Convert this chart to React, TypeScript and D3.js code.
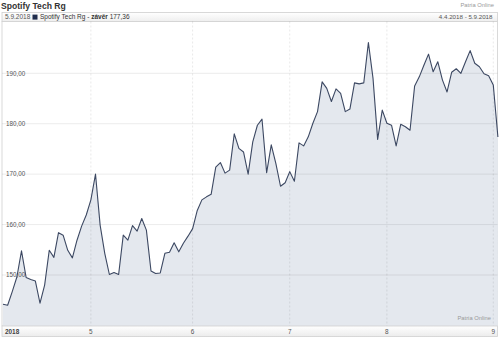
import React from "react";
import * as d3 from "d3";

const title = "Spotify Tech Rg";
const lastDate = "5.9.2018";
const lastValue = "177,36";
const rangeLabel = "4.4.2018 - 5.9.2018";
const source = "Patria Online";

const closes: number[] = [
  144.2, 144.0, 146.7, 149.6, 154.8, 149.5, 149.1, 148.8, 144.4, 148.0,
  154.9, 153.5, 158.4, 157.9, 154.9, 153.4, 156.9, 159.7, 161.9, 164.9,
  170.0, 159.9, 154.3, 150.1, 150.5, 150.1, 157.9, 156.9, 159.8, 158.7,
  161.2, 158.9, 150.8, 150.3, 150.4, 154.3, 154.5, 156.4, 154.6, 156.3,
  157.7, 159.2, 162.8, 164.9, 165.5, 166.0, 171.4, 172.3, 170.2, 170.8,
  178.0, 175.1, 174.4, 170.0, 176.4, 179.7, 180.9, 170.3, 175.8, 172.1,
  167.6, 168.3, 170.5, 168.6, 176.2, 175.6, 177.4, 180.1, 182.4, 188.3,
  187.0, 184.4, 186.9, 186.0, 182.4, 182.9, 188.1, 187.9, 188.1, 196.1,
  189.0, 176.9, 182.7, 180.1, 179.7, 175.6, 179.9, 179.4, 178.7, 187.5,
  189.3, 191.6, 193.8, 190.3, 192.3, 188.7, 186.3, 190.2, 190.9, 190.0,
  192.3, 194.5, 192.0, 191.3, 189.9, 189.5, 187.7, 177.36,
];

const monthLabels = ["2018", "5", "6", "7", "8", "9"];
const monthStartIndex = [0, 19, 41, 62, 83, 106];
const yTicks = [150, 160, 170, 180, 190];

const W = 500;
const H = 338;
const plotLeft = 2;
const plotRight = 497.5;
const plotTop = 21.5;
const plotBottom = 326;
const font = "'Liberation Sans', Arial, sans-serif";

export default function App() {
  const x = d3.scaleLinear().domain([0, closes.length - 1]).range([3, 497.9]);
  const y = d3.scaleLinear().domain([150, 190]).range([275, 73.3]);

  const area = d3
    .area<number>()
    .x((_, i) => x(i))
    .y0(plotBottom)
    .y1((d) => y(d));
  const line = d3
    .line<number>()
    .x((_, i) => x(i))
    .y((d) => y(d));

  const fmt = (v: number) => v.toFixed(2).replace(".", ",");

  return (
    <svg
      width={W}
      height={H}
      style={{ position: "absolute", left: 0, top: 0, background: "#fff" }}
      fontFamily={font}
    >
      <defs>
        <linearGradient id="hdr" x1="0" y1="0" x2="0" y2="1">
          <stop offset="0" stopColor="#ffffff" />
          <stop offset="1" stopColor="#eeeeee" />
        </linearGradient>
        <linearGradient id="axb" x1="0" y1="0" x2="0" y2="1">
          <stop offset="0" stopColor="#ffffff" />
          <stop offset="1" stopColor="#ececec" />
        </linearGradient>
      </defs>

      {/* title */}
      <text x={1} y={9} fontSize={8.6} fontWeight="bold" fill="#333">
        {title}
      </text>
      <text x={494} y={6.5} fontSize={5.8} fill="#999" textAnchor="end">
        {source}
      </text>

      {/* header bar */}
      <rect x={plotLeft} y={12.5} width={plotRight - plotLeft} height={plotTop - 12.5} fill="url(#hdr)" stroke="#cfcfcf" strokeWidth={0.8} />
      <text x={5} y={19.2} fontSize={6.5} fill="#555">
        {lastDate}
      </text>
      <rect x={32.5} y={14.6} width={5} height={5} fill="#1f2d4d" />
      <text x={40} y={19.2} fontSize={6.5} fill="#333">
        {title} - <tspan fontWeight="bold">závěr</tspan> {lastValue}
      </text>
      <text x={492.5} y={19.2} fontSize={6.2} fill="#555" textAnchor="end">
        {rangeLabel}
      </text>

      {/* plot */}
      <rect x={plotLeft} y={plotTop} width={plotRight - plotLeft} height={plotBottom - plotTop} fill="#fff" stroke="#d0d0d0" strokeWidth={0.8} />
      <path d={area(closes) || ""} fill="#e4e8ee" />

      {yTicks.map((t) => (
        <g key={t}>
          <line x1={plotLeft} x2={plotRight} y1={y(t)} y2={y(t)} stroke="rgba(0,0,0,0.1)" strokeWidth={0.8} />
          <text x={6} y={y(t)} dy="0.35em" fontSize={6.3} fill="#555">
            {fmt(t)}
          </text>
        </g>
      ))}
      {monthStartIndex.slice(1).map((m) => (
        <line key={m} x1={x(m)} x2={x(m)} y1={plotTop} y2={plotBottom} stroke="rgba(0,0,0,0.13)" strokeWidth={0.7} strokeDasharray="2,2" />
      ))}

      <path d={line(closes) || ""} fill="none" stroke="#3c4862" strokeWidth={1.1} strokeLinejoin="round" />

      <text x={491} y={319.5} fontSize={5.8} fill="#999" textAnchor="end">
        {source}
      </text>

      {/* bottom axis bar */}
      <rect x={plotLeft} y={plotBottom} width={plotRight - plotLeft} height={10.5} fill="url(#axb)" stroke="#d0d0d0" strokeWidth={0.8} />
      {monthLabels.map((lab, i) =>
        i === 0 ? (
          <text key={lab} x={5} y={333.5} fontSize={6.4} fontWeight="bold" fill="#444">
            {lab}
          </text>
        ) : (
          <text key={lab} x={x(monthStartIndex[i])} y={333.5} fontSize={6.4} fill="#555" textAnchor="middle">
            {lab}
          </text>
        )
      )}
    </svg>
  );
}
